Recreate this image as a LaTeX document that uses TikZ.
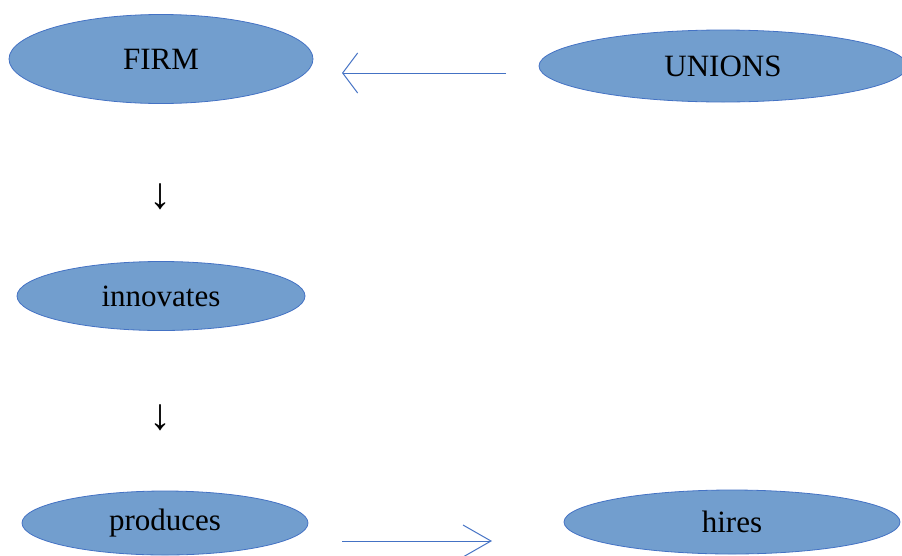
\documentclass[tikz,border=0pt]{standalone}
\usepackage{fontspec}
\setmainfont{Liberation Serif}
\usetikzlibrary{shapes.geometric,arrows.meta}
\definecolor{bubble}{RGB}{114,158,206}
\definecolor{rim}{RGB}{68,114,196}
\tikzset{
  bubble/.style={ellipse, draw=rim, line width=0.8pt, fill=bubble, inner sep=0pt,
    font=\fontsize{31}{31}\selectfont, text=black},
  flow/.style={draw=rim, line width=1pt},
  downmark/.style={font=\fontsize{44}{44}\selectfont, inner sep=0pt}
}
\begin{document}
\begin{tikzpicture}[x=1pt,y=-1pt]
  \useasboundingbox (0,0) rectangle (902,555);
  \clip (0,0) rectangle (902,555);
  % ellipses
  \node[bubble, minimum width=304pt, minimum height=89pt] (firm) at (161,59) {FIRM};
  \node[bubble, minimum width=368pt, minimum height=72pt] (unions) at (723,66) {UNIONS};
  \node[bubble, minimum width=288pt, minimum height=69pt] (innov) at (161,296) {innovates};
  \node[bubble, minimum width=286pt, minimum height=64pt] (prod) at (165,523) {produces};
  \node[bubble, minimum width=336pt, minimum height=64pt] (hires) at (732,522) {hires};
  % down arrows between the left column
  \node[downmark] (d1) at (160,197) {↓};
  \node[downmark] (d2) at (160,418) {↓};
  % connector ends
  \coordinate (uStart) at (506,73);
  \coordinate (fEnd) at (342,73);
  \coordinate (pStart) at (342,541);
  \coordinate (hEnd) at (492,541);
  \draw[flow, -{Straight Barb[length=15pt, width=40pt, line width=1pt]}] (uStart) -- (fEnd);
  \draw[flow, -{Straight Barb[length=28pt, width=32pt, line width=1pt]}] (pStart) -- (hEnd);
\end{tikzpicture}
\end{document}
